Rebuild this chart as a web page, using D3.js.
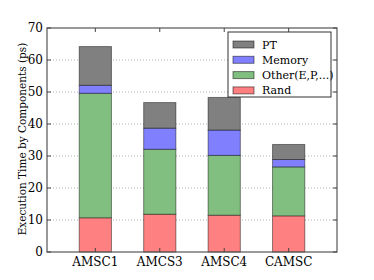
<!DOCTYPE html>
<html>
<head>
<meta charset="utf-8">
<script src="https://cdn.jsdelivr.net/npm/d3@7.9.0/dist/d3.min.js"></script>
<style>
  body { margin: 0; background: #fff; }
  svg { display: block; font-family: "DejaVu Serif", serif; }
</style>
</head>
<body>
<svg id="chart" width="374" height="280"></svg>
<script>
const categories = ['AMSC1', 'AMCS3', 'AMSC4', 'CAMSC'];
const series = ['Rand', 'Other(E,P,...)', 'Memory', 'PT'];
const rand = [10.7, 11.8, 11.5, 11.3];
const other = [38.9, 20.3, 18.7, 15.3];
const memory = [2.5, 6.6, 7.9, 2.3];
const pt = [12.1, 8.0, 10.2, 4.7];
const yTicks = [0, 10, 20, 30, 40, 50, 60, 70];

const colors = {
  'Rand': '#ff8080',
  'Other(E,P,...)': '#80bf80',
  'Memory': '#8080ff',
  'PT': '#808080'
};

const values = { 'Rand': rand, 'Other(E,P,...)': other, 'Memory': memory, 'PT': pt };

const margin = { left: 47, right: 37, top: 28, bottom: 28 };
const width = 374, height = 280;
const svg = d3.select('#chart');

const x = d3.scaleLinear().domain([-0.75, 3.75]).range([margin.left, width - margin.right]);
const y = d3.scaleLinear().domain([0, 70]).range([height - margin.bottom, margin.top]);

// grid
svg.append('g')
  .selectAll('line')
  .data(yTicks.slice(1, -1))
  .join('line')
  .attr('x1', x.range()[0]).attr('x2', x.range()[1])
  .attr('y1', d => y(d)).attr('y2', d => y(d))
  .attr('stroke', '#999').attr('stroke-width', 0.8)
  .attr('stroke-dasharray', '1,2');

// stacked bars
let rows = categories.map((c, i) => {
  let r = { cat: c, i: i };
  series.forEach(s => r[s] = values[s][i]);
  return r;
});
let stacked = d3.stack().keys(series)(rows);

stacked.forEach(layer => {
  svg.append('g')
    .selectAll('rect')
    .data(layer)
    .join('rect')
    .attr('x', d => x(d.data.i - 0.25))
    .attr('width', x(0.25) - x(-0.25))
    .attr('y', d => y(d[1]))
    .attr('height', d => y(d[0]) - y(d[1]))
    .attr('fill', colors[layer.key])
    .attr('stroke', 'rgba(0,0,0,0.45)')
    .attr('stroke-width', 1);
});

// frame
svg.append('rect')
  .attr('x', x.range()[0]).attr('y', y.range()[1])
  .attr('width', x.range()[1] - x.range()[0])
  .attr('height', y.range()[0] - y.range()[1])
  .attr('fill', 'none').attr('stroke', '#555').attr('stroke-width', 1.2);

// y ticks (inside, both sides)
let yAxisG = svg.append('g');
yTicks.forEach(t => {
  yAxisG.append('line')
    .attr('x1', x.range()[0]).attr('x2', x.range()[0] + 4)
    .attr('y1', y(t)).attr('y2', y(t)).attr('stroke', '#444');
  yAxisG.append('line')
    .attr('x1', x.range()[1]).attr('x2', x.range()[1] - 4)
    .attr('y1', y(t)).attr('y2', y(t)).attr('stroke', '#444');
  yAxisG.append('text')
    .attr('x', x.range()[0] - 4).attr('y', y(t) + 4)
    .attr('text-anchor', 'end').attr('font-size', 12)
    .text(t);
});

// x ticks
categories.forEach((c, i) => {
  svg.append('line')
    .attr('x1', x(i)).attr('x2', x(i))
    .attr('y1', y(0)).attr('y2', y(0) - 4).attr('stroke', '#444');
  svg.append('line')
    .attr('x1', x(i)).attr('x2', x(i))
    .attr('y1', y(70)).attr('y2', y(70) + 4).attr('stroke', '#444');
  svg.append('text')
    .attr('x', x(i)).attr('y', y(0) + 14)
    .attr('text-anchor', 'middle').attr('font-size', 12)
    .text(c);
});

// y label
svg.append('text')
  .attr('transform', `translate(26,139) rotate(-90)`)
  .attr('text-anchor', 'middle').attr('font-size', 10.5)
  .text('Execution Time by Components (ps)');

// legend
let legend = svg.append('g').attr('transform', 'translate(228,32)');
legend.append('rect')
  .attr('width', 103).attr('height', 65)
  .attr('fill', '#fff').attr('stroke', '#333').attr('stroke-width', 1);
series.slice().reverse().forEach((s, k) => {
  let g = legend.append('g').attr('transform', `translate(5,${9 + k * 15.3})`);
  g.append('rect')
    .attr('width', 21).attr('height', 7)
    .attr('fill', colors[s]).attr('stroke', 'rgba(0,0,0,0.5)');
  g.append('text')
    .attr('x', 29).attr('y', 7.5).attr('font-size', 11)
    .text(s);
});
</script>
</body>
</html>
